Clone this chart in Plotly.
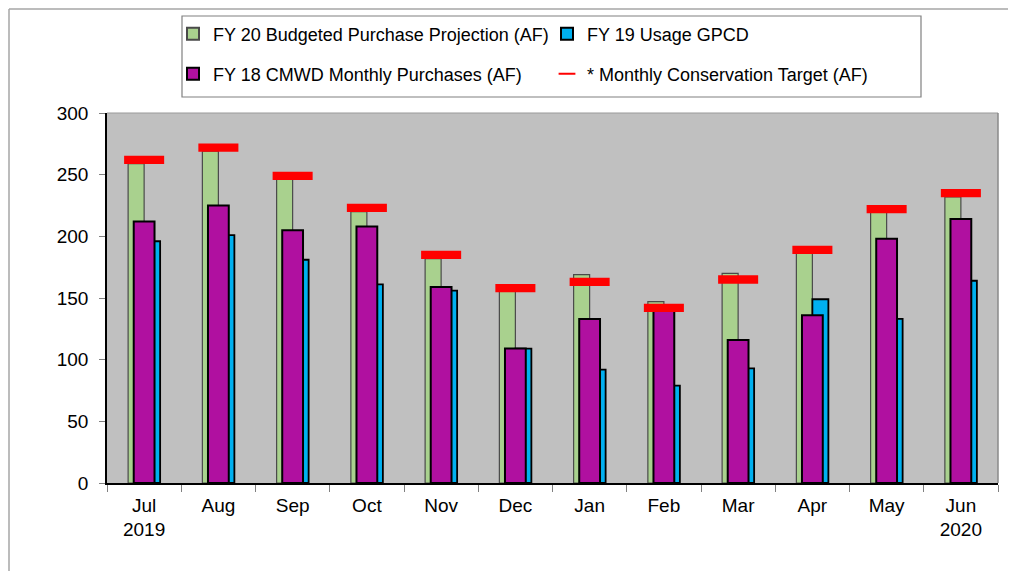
import plotly.graph_objects as go

months = ["Jul<br>2019", "Aug", "Sep", "Oct", "Nov", "Dec", "Jan", "Feb", "Mar", "Apr", "May", "Jun<br>2020"]
fy20_budget = [259, 269, 247, 220, 182, 156, 169, 147, 170, 187, 220, 232]
fy19_gpcd = [196, 201, 181, 161, 156, 109, 92, 79, 93, 149, 133, 164]
fy18_purch = [212, 225, 205, 208, 159, 109, 133, 141, 116, 136, 198, 214]
cons_target = [262, 272, 249, 223, 185, 158, 163, 142, 165, 189, 222, 235]

FONT = "Liberation Sans, Arial, sans-serif"

OFF = 8  # page body margin
W, H = 1016 - OFF, 571 - OFF
L, R, T, B = 107, 998, 113, 483  # plot area in page pixels


def px_x(p):
    return (p - L) / (R - L)


def px_y(p):
    return (B - p) / (B - T)


fig = go.Figure()
fig.add_trace(go.Bar(
    x=months, y=fy20_budget, name="FY 20 Budgeted Purchase Projection (AF)",
    offset=-0.2155, width=0.2155,
    marker=dict(color="#A9D18E", line=dict(color="#4A4A4A", width=1.2)),
    legend="legend",
))
fig.add_trace(go.Bar(
    x=months, y=fy19_gpcd, name="FY 19 Usage GPCD",
    offset=0.0, width=0.2155,
    marker=dict(color="#00B0F0", line=dict(color="#000000", width=1.8)),
    legend="legend",
))
fig.add_trace(go.Bar(
    x=months, y=fy18_purch, name="FY 18 CMWD Monthly Purchases (AF)",
    offset=-0.14, width=0.28,
    marker=dict(color="#B010A0", line=dict(color="#000000", width=2)),
    legend="legend2",
))
fig.add_trace(go.Scatter(
    x=months, y=cons_target, name="* Monthly Conservation Target (AF)",
    mode="markers",
    marker=dict(symbol="line-ew", size=28.6, color="#FF0000",
                line=dict(color="#FF0000", width=8.3)),
    legend="legend2",
))

shapes = [
    # outer chart frame (top & left)
    dict(type="line", xref="paper", yref="paper", x0=px_x(9), x1=px_x(1030), y0=px_y(9), y1=px_y(9),
         line=dict(color="#A6A6A6", width=1.5)),
    dict(type="line", xref="paper", yref="paper", x0=px_x(9), x1=px_x(9), y0=px_y(9), y1=px_y(590),
         line=dict(color="#A6A6A6", width=1.5)),
    # plot area top and right borders
    dict(type="line", xref="paper", yref="paper", x0=0, x1=1, y0=1, y1=1,
         line=dict(color="#9A9A9A", width=1.2)),
    dict(type="line", xref="paper", yref="paper", x0=1, x1=1, y0=0, y1=1,
         line=dict(color="#8A8A8A", width=1.5)),
    # legend box
    dict(type="rect", xref="paper", yref="paper", x0=px_x(182), x1=px_x(921), y0=px_y(97), y1=px_y(16),
         line=dict(color="#808080", width=1.2), fillcolor="rgba(0,0,0,0)"),
]

legend_common = dict(
    orientation="h", xanchor="left", yanchor="middle",
    entrywidth=329, entrywidthmode="pixels",
    font=dict(family=FONT, size=18, color="#000000"),
    bgcolor="rgba(0,0,0,0)", borderwidth=0,
    itemsizing="constant",
)

fig.update_layout(
    width=W, height=H,
    margin=dict(l=L - OFF, r=W - (R - OFF), t=T - OFF, b=H - (B - OFF), pad=0, autoexpand=False),
    paper_bgcolor="#FFFFFF", plot_bgcolor="#C0C0C0",
    barmode="overlay",
    font=dict(family=FONT, size=19, color="#000000"),
    showlegend=True,
    legend=dict(x=px_x(173), y=px_y(34), **legend_common),
    legend2=dict(x=px_x(173), y=px_y(74), **legend_common),
    shapes=shapes,
    xaxis=dict(
        type="category", tickson="boundaries", ticks="outside", ticklen=7,
        tickcolor="#808080", tickwidth=1,
        showline=True, linecolor="#000000", linewidth=1.5,
        showgrid=False, zeroline=False,
        tickfont=dict(family=FONT, size=19, color="#000000"),
        ticklabelstandoff=4,
        range=[-0.5, 11.5],
    ),
    yaxis=dict(
        range=[0, 300], dtick=50, tick0=0, ticks="outside", ticklen=6,
        tickcolor="#808080", tickwidth=1,
        showline=True, linecolor="#000000", linewidth=1.5,
        showgrid=False, zeroline=False,
        tickfont=dict(family=FONT, size=19, color="#000000"),
        ticklabelstandoff=7,
    ),
)

fig.write_html("out.html")
